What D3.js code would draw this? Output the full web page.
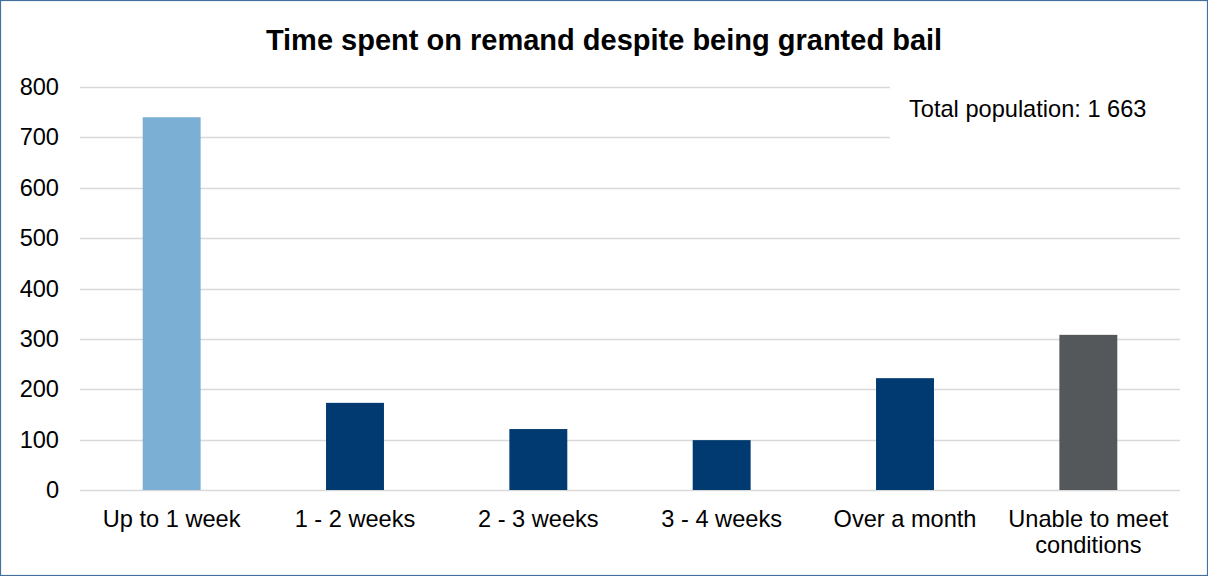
<!DOCTYPE html>
<html>
<head>
<meta charset="utf-8">
<script src="https://cdn.jsdelivr.net/npm/d3@7"></script>
<style>
  html, body { margin: 0; padding: 0; background: #fff; }
  svg { display: block; font-family: "Liberation Sans", Arial, sans-serif; }
</style>
</head>
<body>
<svg id="chart" width="1208" height="576"></svg>
<script>
// Time spent on remand despite being granted bail
const categories = ["Up to 1 week", "1 - 2 weeks", "2 - 3 weeks", "3 - 4 weeks", "Over a month", "Unable to meet conditions"];
const counts = [740, 173, 121, 99, 222, 308];
const barColors = ["#7BAFD4", "#003A70", "#003A70", "#003A70", "#003A70", "#54585A"];
const yTicks = [0, 100, 200, 300, 400, 500, 600, 700, 800];
const chartTitle = "Time spent on remand despite being granted bail";
const note = "Total population: 1 663";

const svg = d3.select("#chart");
const W = 1208, H = 576;
const margin = { top: 87, right: 28, bottom: 86, left: 80 };
const labelSize = 23.6;

// outer frame
svg.append("rect")
  .attr("x", 0.5).attr("y", 0.5)
  .attr("width", W - 1).attr("height", H - 1)
  .attr("fill", "#fff").attr("stroke", "#41719C").attr("stroke-width", 1.2);

const x = d3.scaleBand()
  .domain(categories)
  .range([margin.left, W - margin.right])
  .paddingInner(0.684)
  .paddingOuter(0.342);

const y = d3.scaleLinear()
  .domain([0, 800])
  .range([H - margin.bottom, margin.top]);

// gridlines
svg.append("g")
  .selectAll("line")
  .data(yTicks)
  .join("line")
  .attr("x1", margin.left).attr("x2", W - margin.right)
  .attr("y1", d => Math.round(y(d)) + 0.5).attr("y2", d => Math.round(y(d)) + 0.5)
  .attr("stroke", "#D9D9D9").attr("stroke-width", 1.3);

// y axis labels
const yAxis = d3.axisLeft(y).tickValues(yTicks).tickSize(0).tickPadding(0);
const gy = svg.append("g")
  .attr("transform", `translate(${margin.left - 21},0)`)
  .call(yAxis);
gy.select(".domain").remove();
gy.selectAll("text")
  .attr("font-size", labelSize)
  .attr("fill", "#000")
  .attr("font-family", "Liberation Sans, Arial, sans-serif");

// bars
svg.append("g")
  .selectAll("rect")
  .data(categories)
  .join("rect")
  .attr("x", d => x(d))
  .attr("width", x.bandwidth())
  .attr("y", (d, i) => y(counts[i]))
  .attr("height", (d, i) => y(0) - y(counts[i]))
  .attr("fill", (d, i) => barColors[i]);

// x axis labels (long label wraps onto two lines)
const xAxis = d3.axisBottom(x).tickSize(0).tickPadding(0);
const gx = svg.append("g")
  .attr("transform", `translate(0,${y(0)})`)
  .call(xAxis);
gx.select(".domain").remove();
gx.selectAll("text").remove();
gx.selectAll(".tick").each(function(d) {
  const t = d3.select(this).append("text")
    .attr("text-anchor", "middle")
    .attr("font-size", labelSize)
    .attr("fill", "#000");
  const lines = d === "Unable to meet conditions" ? ["Unable to meet", "conditions"] : [d];
  lines.forEach((ln, k) => {
    t.append("tspan").attr("x", 0).attr("y", 37 + k * 26).text(ln);
  });
});

// title
svg.append("text")
  .attr("x", 604).attr("y", 50)
  .attr("text-anchor", "middle")
  .attr("font-size", 29)
  .attr("font-weight", "bold")
  .attr("fill", "#000")
  .text(chartTitle);

// note box
svg.append("rect")
  .attr("x", 890).attr("y", 78)
  .attr("width", 300).attr("height", 62)
  .attr("fill", "#fff");
svg.append("text")
  .attr("x", 909).attr("y", 117)
  .attr("font-size", labelSize)
  .attr("fill", "#000")
  .text(note);
</script>
</body>
</html>
